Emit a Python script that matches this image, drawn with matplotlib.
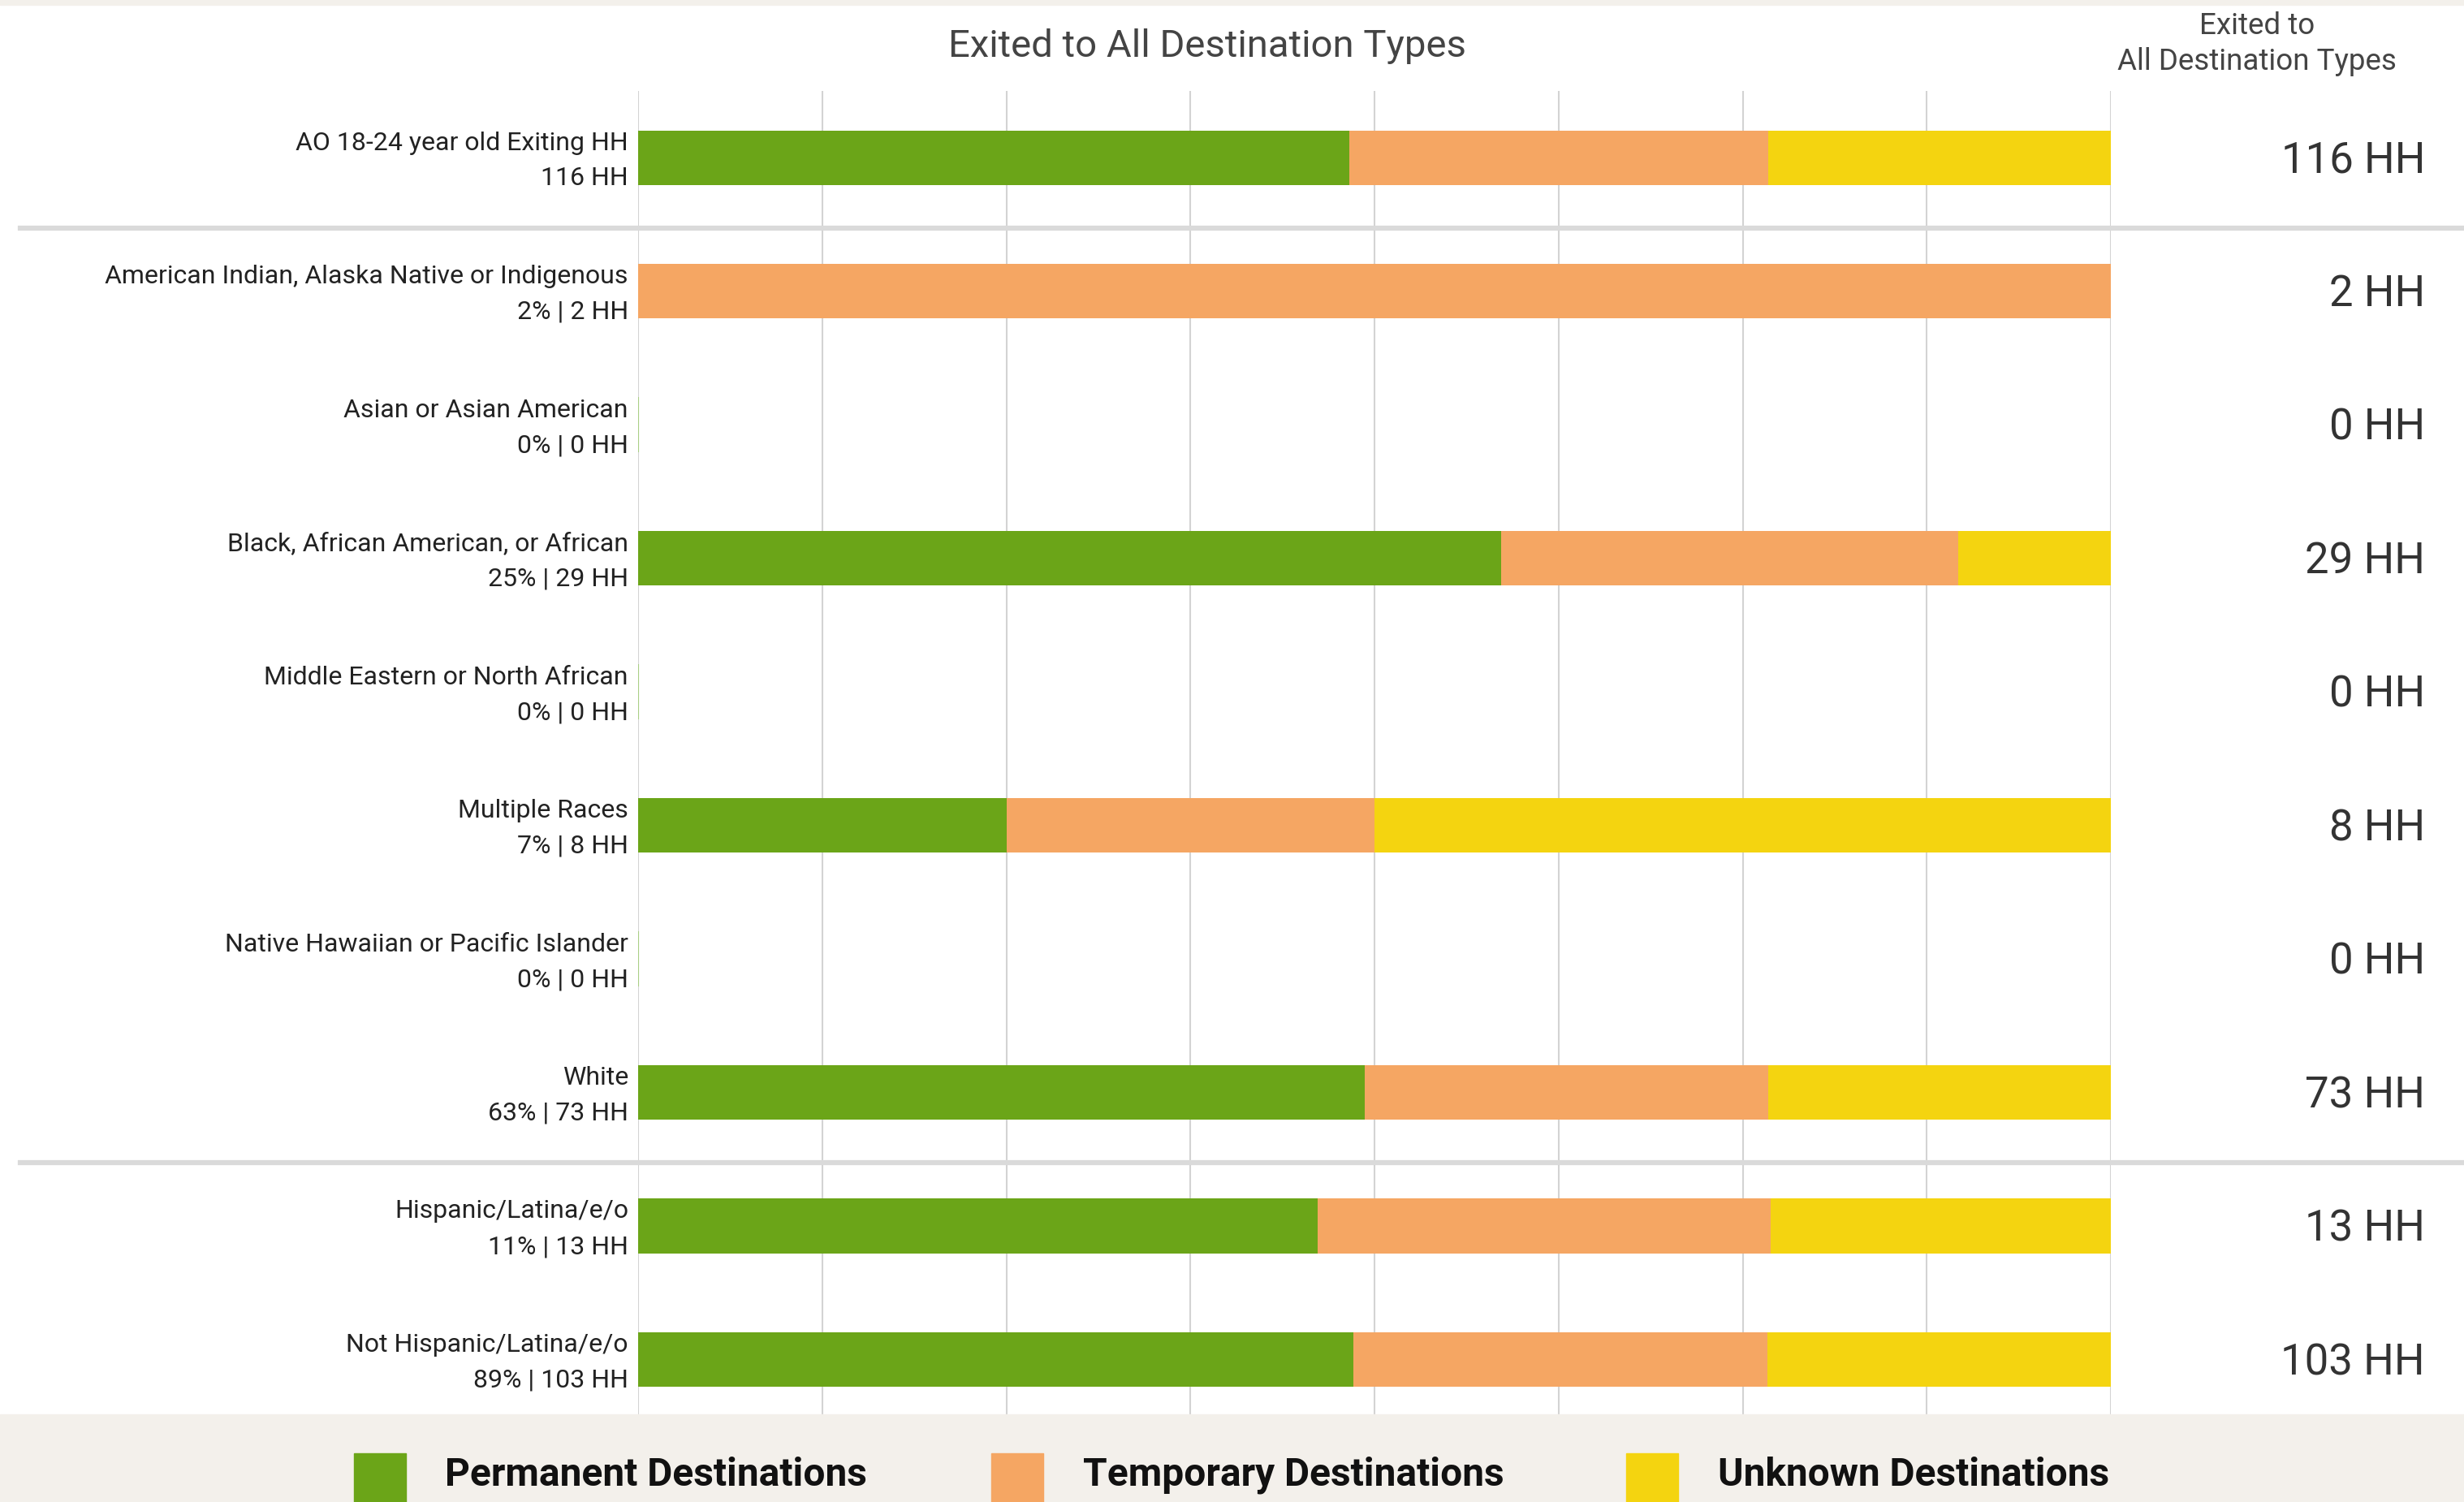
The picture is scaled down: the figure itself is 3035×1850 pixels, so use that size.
import matplotlib
matplotlib.use("Agg")
import matplotlib.pyplot as plt
import matplotlib.transforms as mtransforms
from matplotlib.patches import Rectangle
from matplotlib.lines import Line2D

# ---------------- data ----------------
categories = [
    "AO 18-24 year old Exiting HH",
    "American Indian, Alaska Native or Indigenous",
    "Asian or Asian American",
    "Black, African American, or African",
    "Middle Eastern or North African",
    "Multiple Races",
    "Native Hawaiian or Pacific Islander",
    "White",
    "Hispanic/Latina/e/o",
    "Not Hispanic/Latina/e/o",
]
permanent = [56, 0, 0, 17, 0, 2, 0, 36, 6, 50]
temporary = [33, 2, 0, 9, 0, 2, 0, 20, 4, 29]
unknown = [27, 0, 0, 3, 0, 4, 0, 17, 3, 24]
sublabels = ["116 HH", "2% | 2 HH", "0% | 0 HH", "25% | 29 HH", "0% | 0 HH",
             "7% | 8 HH", "0% | 0 HH", "63% | 73 HH", "11% | 13 HH", "89% | 103 HH"]
right_labels = ["116 HH", "2 HH", "0 HH", "29 HH", "0 HH", "8 HH", "0 HH",
                "73 HH", "13 HH", "103 HH"]
series_names = ["Permanent Destinations", "Temporary Destinations", "Unknown Destinations"]
title = "Exited to All Destination Types"
right_header = "Exited to\nAll Destination Types"

# ---------------- style ----------------
GREEN = "#6BA518"
ORANGE = "#F5A663"
YELLOW = "#F4D410"
BEIGE = "#F3F0EB"
colors = [GREEN, ORANGE, YELLOW]
FONT = "Roboto"

W, H = 3035, 1850
fig = plt.figure(figsize=(W / 100, H / 100), dpi=100)
fig.patch.set_facecolor("white")

def fx(x):
    return x / W

def fy(y):
    return 1 - y / H

# background bands
fig.patches.append(Rectangle((0, 0), 1, (H - 1742) / H,
                             transform=fig.transFigure, color=BEIGE, zorder=0))
fig.patches.append(Rectangle((0, fy(6)), 1, 6 / H, transform=fig.transFigure,
                             color=BEIGE, zorder=0))

ax_left, ax_right, ax_top, ax_bot = 786, 2600, 112, 1742
ax = fig.add_axes([fx(ax_left), fy(ax_bot), (ax_right - ax_left) / W, (ax_bot - ax_top) / H])
ax.set_facecolor("none")
n = len(categories)
ax.set_xlim(0, 1)
ax.set_ylim(9.41, -0.5)
for s in ax.spines.values():
    s.set_visible(False)
ax.set_xticks([i / 8 for i in range(9)])
ax.set_yticks([])
ax.tick_params(axis="x", length=0, labelbottom=False)
ax.grid(axis="x", color="#D3D3D3", linewidth=1.5, zorder=0)
ax.set_axisbelow(True)

bar_h = 0.41
for i in range(n):
    total = permanent[i] + temporary[i] + unknown[i]
    if total == 0:
        ax.barh(i, 0, left=0, height=bar_h, color=GREEN, edgecolor="#A9CF84",
                linewidth=1.5, zorder=3)
        continue
    left = 0.0
    for vals, c in zip([permanent, temporary, unknown], colors):
        w = vals[i] / total
        ax.barh(i, w, left=left, height=bar_h, color=c, edgecolor="none", zorder=3)
        left += w

blend = mtransforms.blended_transform_factory(ax.transAxes, ax.transData)
for i in range(n):
    ax.text(-12 / 1814, i - 0.11, categories[i], transform=blend, ha="right", va="center",
            fontsize=23, family=FONT, color="#222222")
    ax.text(-12 / 1814, i + 0.155, sublabels[i], transform=blend, ha="right", va="center",
            fontsize=23, family=FONT, color="#222222")
    ax.text((2987 - ax_left) / 1814, i + 0.025, right_labels[i], transform=blend, ha="right",
            va="center", fontsize=38, family=FONT, color="#333333")

# separators
for y in [281, 1432]:
    fig.lines.append(Line2D([fx(25), 1], [fy(y), fy(y)], transform=fig.transFigure,
                            color="#DADADA", linewidth=4.5, zorder=5))

# titles
fig.text(fx(1487), fy(57), title, ha="center", va="center", fontsize=34,
         family=FONT, color="#444444")
fig.text(fx(2780), fy(54), right_header, ha="center", va="center", fontsize=26.5,
         family=FONT, color="#444444", linespacing=1.3)

# legend
sq_x = [436, 1221, 2003]
tx_x = [548, 1334, 2116]
for sx, tx, c, name in zip(sq_x, tx_x, colors, series_names):
    fig.patches.append(Rectangle((fx(sx), 0), 64 / W, (H - 1790) / H,
                                 transform=fig.transFigure, color=c, zorder=2))
    fig.text(fx(tx), fy(1817), name, ha="left", va="center", fontsize=34.5,
             family=FONT, fontweight="bold", color="#111111")

fig.savefig("out.png", dpi=100, facecolor=fig.get_facecolor())
